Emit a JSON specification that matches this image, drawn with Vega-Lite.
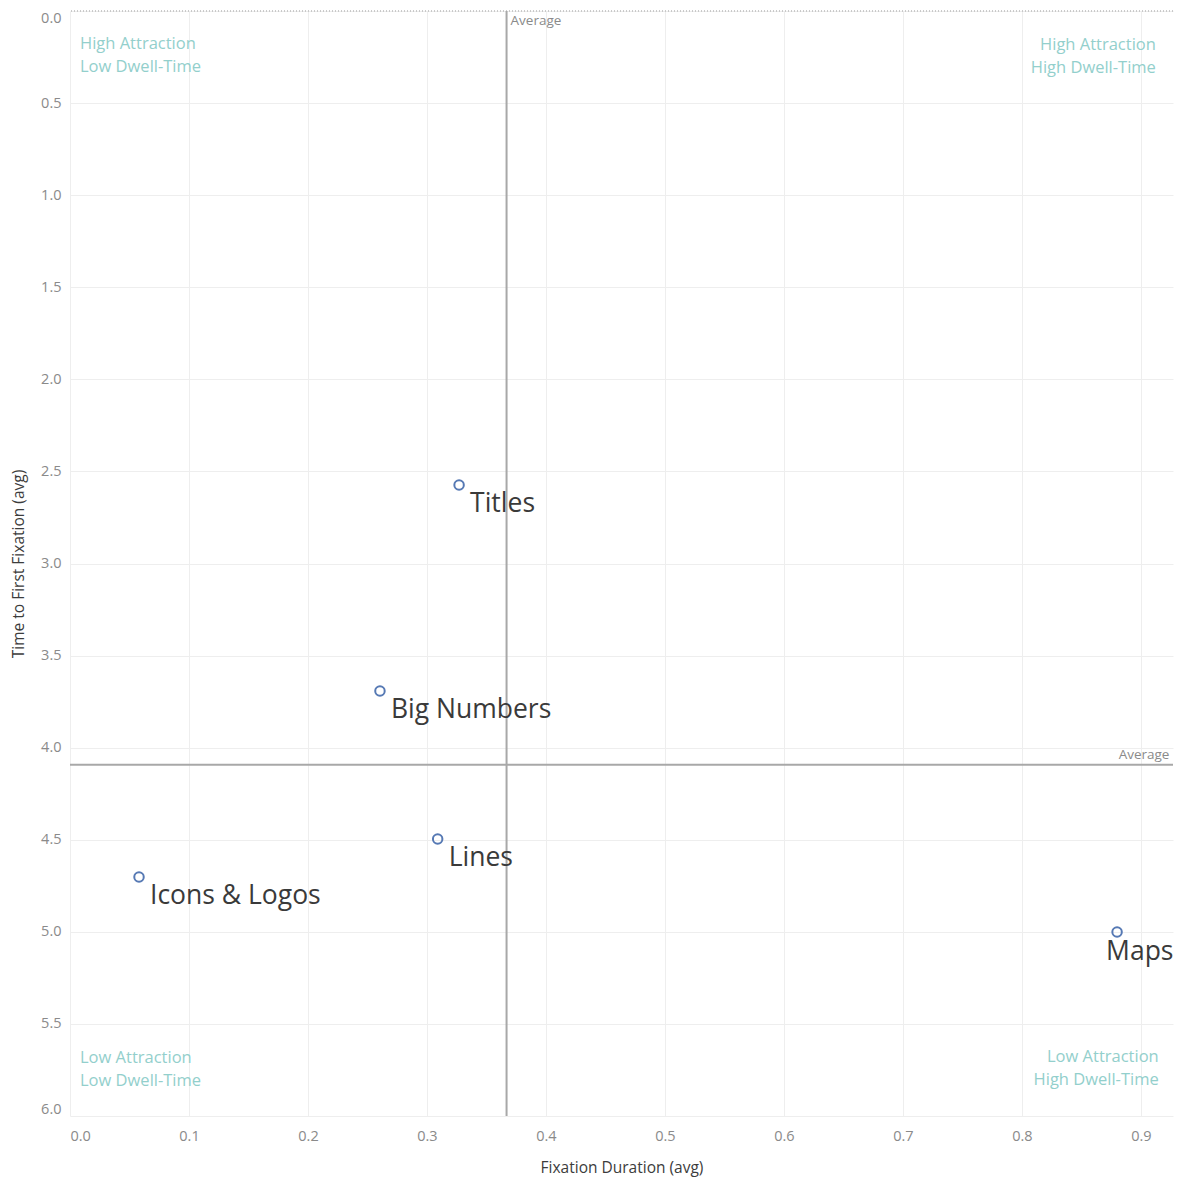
{
  "$schema": "https://vega.github.io/schema/vega-lite/v6.json",
  "width": 1103,
  "height": 1105,
  "autosize": {"type": "none"},
  "padding": {"left": 70, "top": 11, "right": 11, "bottom": 62},
  "background": "white",
  "config": {
    "view": {"stroke": null},
    "font": "Open Sans",
    "axis": {"labelFont": "Open Sans", "titleFont": "Open Sans"}
  },
  "datasets": {
    "pts": [
      {"category": "Titles", "duration": 0.327, "ttff": 2.574},
      {"category": "Big Numbers", "duration": 0.2605, "ttff": 3.692},
      {"category": "Lines", "duration": 0.309, "ttff": 4.496},
      {"category": "Icons & Logos", "duration": 0.058, "ttff": 4.702},
      {"category": "Maps", "duration": 0.880, "ttff": 5.001}
    ],
    "quad": [
      {"label": "High Attraction", "side": "left", "qx": 0.0084, "qy": 0.179},
      {"label": "Low Dwell-Time", "side": "left", "qx": 0.0084, "qy": 0.303},
      {"label": "High Attraction", "side": "right", "qx": 0.9126, "qy": 0.185},
      {"label": "High Dwell-Time", "side": "right", "qx": 0.9126, "qy": 0.309},
      {"label": "Low Attraction", "side": "left", "qx": 0.0084, "qy": 5.685},
      {"label": "Low Dwell-Time", "side": "left", "qx": 0.0084, "qy": 5.81},
      {"label": "Low Attraction", "side": "right", "qx": 0.915, "qy": 5.68},
      {"label": "High Dwell-Time", "side": "right", "qx": 0.915, "qy": 5.805}
    ]
  },
  "data": {"name": "pts"},
  "layer": [
    {
      "mark": {"type": "point", "filled": false, "stroke": "#5679b4", "strokeWidth": 2, "size": 90, "opacity": 1},
      "encoding": {
        "x": {
          "field": "duration", "type": "quantitative",
          "scale": {"domain": [0, 0.927], "nice": false, "zero": false},
          "axis": {
            "title": "Fixation Duration (avg)",
            "titleFontSize": 15.5, "titleFontWeight": "normal", "titleColor": "#3c3c3c", "titlePadding": 18,
            "values": [0, 0.1, 0.2, 0.3, 0.4, 0.5, 0.6, 0.7, 0.8, 0.9],
            "format": ".1f", "labelFontSize": 14.5, "labelColor": "#8a8a8a", "labelPadding": 13, "labelFlush": true,
            "domain": false, "ticks": false, "grid": true, "gridColor": "#eeeeee", "gridWidth": 1
          }
        },
        "y": {
          "field": "ttff", "type": "quantitative",
          "scale": {"domain": [0, 6], "reverse": true, "nice": false, "zero": false},
          "axis": {
            "title": "Time to First Fixation (avg)",
            "titleFontSize": 15.5, "titleFontWeight": "normal", "titleColor": "#3c3c3c", "titlePadding": 14,
            "values": [0, 0.5, 1, 1.5, 2, 2.5, 3, 3.5, 4, 4.5, 5, 5.5, 6],
            "format": ".1f", "labelFontSize": 14.5, "labelColor": "#8a8a8a", "labelPadding": 9, "labelFlush": true,
            "domain": false, "ticks": false, "grid": true, "gridColor": "#eeeeee", "gridWidth": 1
          }
        }
      }
    },
    {
      "mark": {"type": "rule", "color": "#c8c8c8", "strokeDash": [1, 2], "strokeWidth": 1},
      "encoding": {"y": {"datum": 0}}
    },
    {
      "transform": [{"aggregate": [{"op": "mean", "field": "duration", "as": "mx"}]}],
      "mark": {"type": "rule", "color": "#a8a8a8", "strokeWidth": 2},
      "encoding": {"x": {"field": "mx", "type": "quantitative"}}
    },
    {
      "transform": [{"aggregate": [{"op": "mean", "field": "ttff", "as": "my"}]}],
      "mark": {"type": "rule", "color": "#a8a8a8", "strokeWidth": 2},
      "encoding": {"y": {"field": "my", "type": "quantitative"}}
    },
    {
      "transform": [{"aggregate": [{"op": "mean", "field": "duration", "as": "mx"}]}],
      "mark": {"type": "text", "text": "Average", "align": "left", "baseline": "middle", "dx": 4, "fontSize": 13.5, "color": "#8a8a8a"},
      "encoding": {"x": {"field": "mx", "type": "quantitative"}, "y": {"datum": 0.055}}
    },
    {
      "transform": [{"aggregate": [{"op": "mean", "field": "ttff", "as": "my"}]}],
      "mark": {"type": "text", "text": "Average", "align": "right", "baseline": "bottom", "dy": -3, "fontSize": 13.5, "color": "#8a8a8a"},
      "encoding": {"y": {"field": "my", "type": "quantitative"}, "x": {"datum": 0.924}}
    },
    {
      "transform": [{"filter": "datum.category != 'Maps'"}],
      "mark": {"type": "text", "align": "left", "baseline": "middle", "dx": 11, "dy": 19, "fontSize": 26.5, "color": "#3a3a3a"},
      "encoding": {
        "x": {"field": "duration", "type": "quantitative"},
        "y": {"field": "ttff", "type": "quantitative"},
        "text": {"field": "category"}
      }
    },
    {
      "transform": [{"filter": "datum.category == 'Maps'"}],
      "mark": {"type": "text", "align": "left", "baseline": "middle", "dx": -11, "dy": 20, "fontSize": 26.5, "color": "#3a3a3a"},
      "encoding": {
        "x": {"field": "duration", "type": "quantitative"},
        "y": {"field": "ttff", "type": "quantitative"},
        "text": {"field": "category"}
      }
    },
    {
      "data": {"name": "quad"},
      "transform": [{"filter": "datum.side == 'left'"}],
      "mark": {"type": "text", "align": "left", "baseline": "middle", "fontSize": 16.5, "color": "#93cfcc"},
      "encoding": {
        "x": {"field": "qx", "type": "quantitative"},
        "y": {"field": "qy", "type": "quantitative"},
        "text": {"field": "label"}
      }
    },
    {
      "data": {"name": "quad"},
      "transform": [{"filter": "datum.side == 'right'"}],
      "mark": {"type": "text", "align": "right", "baseline": "middle", "fontSize": 16.5, "color": "#93cfcc"},
      "encoding": {
        "x": {"field": "qx", "type": "quantitative"},
        "y": {"field": "qy", "type": "quantitative"},
        "text": {"field": "label"}
      }
    }
  ]
}
